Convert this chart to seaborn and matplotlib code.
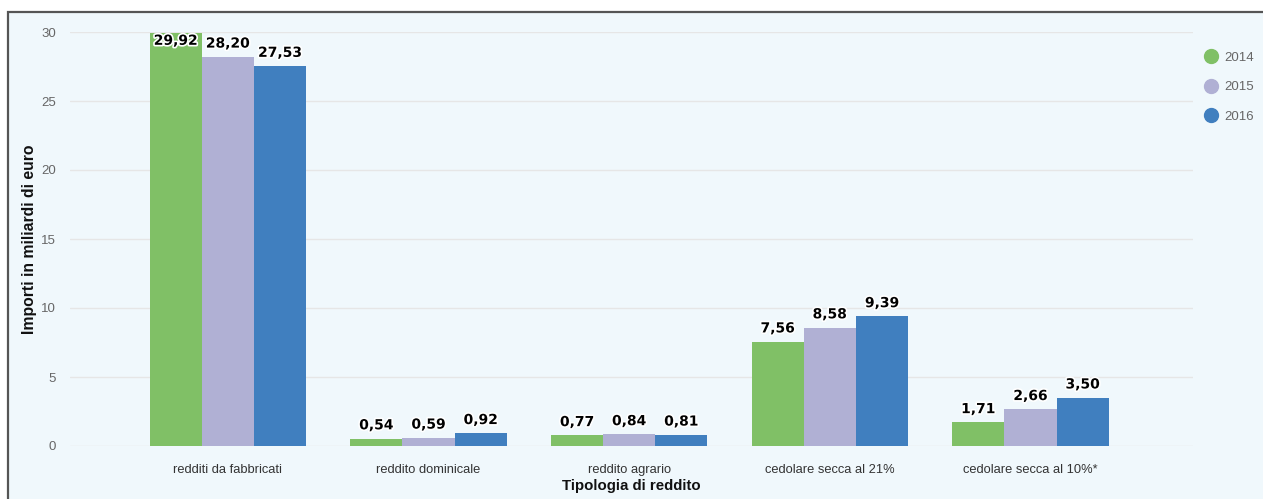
import matplotlib
matplotlib.use("Agg")
import matplotlib.pyplot as plt
import matplotlib.patheffects as pe
from matplotlib.lines import Line2D
from matplotlib.patches import Rectangle
import pandas as pd
import seaborn as sns

# Importi per tipologia di reddito (miliardi di euro)
categorie = ["redditi da fabbricati", "reddito dominicale", "reddito agrario",
             "cedolare secca al 21%", "cedolare secca al 10%*"]
anni = ["2014", "2015", "2016"]
valori_2014 = [29.92, 0.54, 0.77, 7.56, 1.71]
valori_2015 = [28.20, 0.59, 0.84, 8.58, 2.66]
valori_2016 = [27.53, 0.92, 0.81, 9.39, 3.50]
colori = ["#80c066", "#b0b0d4", "#407fbf"]
y_ticks = [0, 5, 10, 15, 20, 25, 30]

df = pd.DataFrame({
    "categoria": categorie * 3,
    "anno": [a for a in anni for _ in categorie],
    "valore": valori_2014 + valori_2015 + valori_2016,
})

sns.set_style("white")
plt.rcParams["font.family"] = ["Liberation Sans", "DejaVu Sans"]

W, H = 1263, 499
fig = plt.figure(figsize=(W / 100, H / 100), dpi=100)
fig.patch.set_facecolor("white")

# Pannello di sfondo con cornice
fig.patches.append(Rectangle((8 / W, -0.05), 1.1, (H - 12) / H + 0.05,
                             transform=fig.transFigure, facecolor="#f0f8fc",
                             edgecolor="#555555", linewidth=1.6, zorder=-10))

left, right = 70 / W, 1193 / W
bottom, top = (H - 446) / H, (H - 32) / H
ax = fig.add_axes([left, bottom, right - left, top - bottom])
ax.set_facecolor("none")

sns.barplot(data=df, x="categoria", y="valore", hue="anno", order=categorie,
            hue_order=anni, palette=colori, width=0.78, gap=0, saturation=1,
            edgecolor="none", linewidth=0, legend=False, ax=ax, zorder=3)

ax.set_ylim(0, 30)
ax.set_xlim(-0.787, 4.81)
ax.set_yticks(y_ticks)
ax.set_yticklabels([str(t) for t in y_ticks], color="#666666", fontsize=9.5)
ax.tick_params(axis="x", colors="#333333", labelsize=9.3, length=0, pad=13)
ax.tick_params(axis="y", length=0, pad=10)
for s in ax.spines.values():
    s.set_visible(False)
ax.grid(axis="y", color="#e6e6e6", linewidth=1, zorder=0)
ax.set_axisbelow(True)

ax.set_xlabel("Tipologia di reddito", fontsize=10.8, fontweight="bold",
              color="#111111", labelpad=2)
ax.set_ylabel("Importi in miliardi di euro", fontsize=11.3, fontweight="bold",
              color="#111111", labelpad=3)

# Etichette dei valori sopra le barre
stroke = [pe.withStroke(linewidth=2.4, foreground="white")]
for container in ax.containers:
    for bar in container:
        v = bar.get_height()
        x = bar.get_x() + bar.get_width() / 2
        testo = f"{v:.2f}".replace(".", ",")
        if v > 29:
            ax.annotate(testo, (x, v), xytext=(0, -0.5), textcoords="offset points",
                        ha="center", va="top", fontsize=10, fontweight="bold",
                        family="DejaVu Sans", color="black", path_effects=stroke,
                        clip_on=False, zorder=5)
        else:
            ax.annotate(testo, (x, v), xytext=(0, 4.5), textcoords="offset points",
                        ha="center", va="bottom", fontsize=10, fontweight="bold",
                        family="DejaVu Sans", color="black", path_effects=stroke,
                        clip_on=False, zorder=5)

# Legenda con marcatori circolari
handles = [Line2D([0], [0], marker="o", linestyle="none", markersize=10,
                  markerfacecolor=c, markeredgecolor=c) for c in colori]
leg = fig.legend(handles, anni, loc="upper left",
                 bbox_to_anchor=(1193 / W, (H - 40) / H), frameon=False,
                 fontsize=9.5, labelcolor="#666666", handletextpad=0.5,
                 labelspacing=1.3, handlelength=1.0)

fig.savefig("out.png", dpi=100)
